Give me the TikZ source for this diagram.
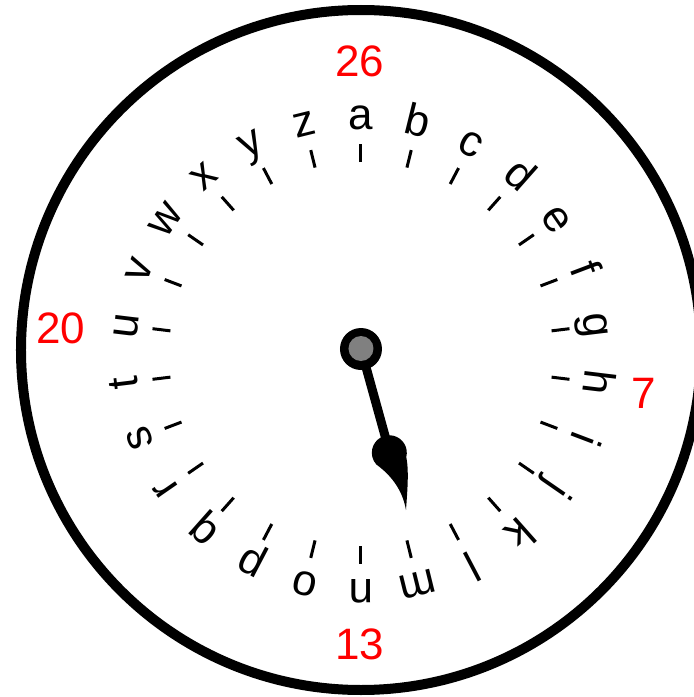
\documentclass[tikz,border=0pt]{standalone}
\usepackage{fontspec}
\setmainfont{Liberation Sans}
\begin{document}
\begin{tikzpicture}[x=1pt,y=1pt,
  letter/.style={font=\fontsize{44}{44}\selectfont, inner sep=0pt, anchor=base, text=black},
  numlabel/.style={font=\fontsize{44}{44}\selectfont, inner sep=0pt, text=red},
  tickmark/.style={line width=3pt, draw=black},
  rim/.style={line width=10pt, draw=black},
  handline/.style={line width=9pt, draw=black},
]
\clip (-361,-348) rectangle (333,349);
\fill[white] (-361,-348) rectangle (333,349);
% outer rim
\draw[rim] (0,-1) circle (340);
% letters and ticks
\begin{scope}[shift={(0,-5)}]
\foreach \ch [count=\i from 0] in {a,b,c,d,e,f,g,h,i,j,k,l,m,n,o,p,q,r,s,t,u,v,w,x,y,z}
{
  \pgfmathsetmacro\ang{90-\i*360/26}
  \node[letter, rotate=\ang-90] (L\i) at (\ang:225) {\ch};
  \coordinate (Ta\i) at (\ang:192);
  \coordinate (Tb\i) at (\ang:210);
  \draw[tickmark] (Ta\i) -- (Tb\i);
}
\end{scope}
% numbers
\node[numlabel] (n26) at (-1,288) {26};
\node[numlabel] (n13) at (-1,-295) {13};
\node[numlabel] (n20) at (-300,20.5) {20};
\node[numlabel] (n7) at (283,-44.5) {7};
% hand
\coordinate (bulb) at (28.5,-103);
\coordinate (tip) at (45,-161);
\draw[handline] (0,0) -- (bulb);
\fill[black] (tip) .. controls (46.5,-140) and (48,-122) .. (45.3,-108)
  arc[start angle=-14, end angle=222, radius=17.5]
  .. controls (27,-124) and (41,-138) .. (tip) -- cycle;
% hub
\node[circle, fill=black, minimum size=42pt, inner sep=0pt] (hub) at (0,0) {};
\node[circle, fill=gray, minimum size=25pt, inner sep=0pt] (hubin) at (0,0.5) {};
\end{tikzpicture}
\end{document}
